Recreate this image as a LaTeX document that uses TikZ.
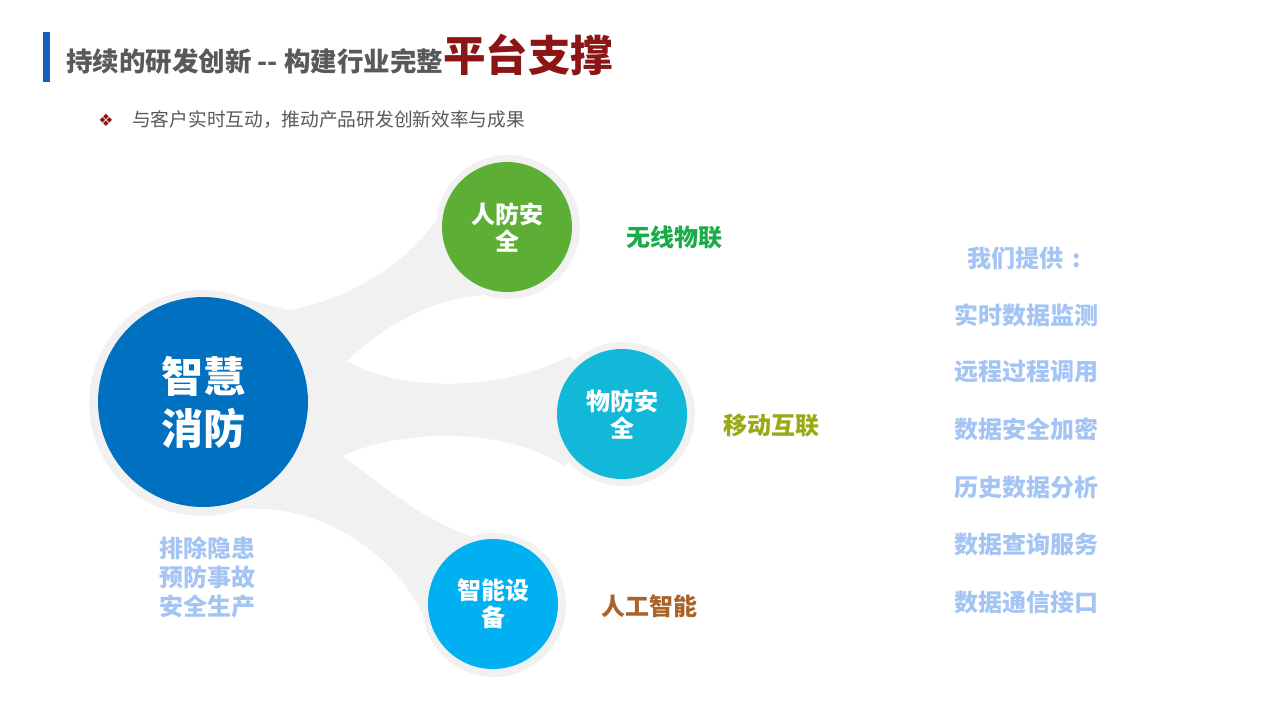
\documentclass[tikz,border=0pt]{standalone}
\usepackage{fontspec}
\setmainfont{Noto Sans CJK SC}
\newfontfamily\symfont{DejaVu Sans}
\definecolor{haloGray}{RGB}{241,241,241}
\definecolor{bigBlue}{RGB}{0,112,192}
\definecolor{leafGreen}{RGB}{93,174,52}
\definecolor{leafCyan}{RGB}{18,184,216}
\definecolor{leafBlue}{RGB}{0,176,240}
\definecolor{titleGray}{RGB}{89,89,89}
\definecolor{titleRed}{RGB}{140,22,22}
\definecolor{barBlue}{RGB}{21,96,189}
\definecolor{listBlue}{RGB}{164,196,244}
\definecolor{lblGreen}{RGB}{26,171,75}
\definecolor{lblOlive}{RGB}{152,170,20}
\definecolor{lblBrown}{RGB}{168,100,42}
\tikzset{
  halo/.style={circle, fill=haloGray, inner sep=0},
  leaf/.style={circle, minimum size=130pt, inner sep=0, text=white, align=center,
    font=\bfseries\fontsize{24}{27}\selectfont},
  sidelabel/.style={inner sep=0, font=\bfseries\fontsize{24}{24}\selectfont},
  listitem/.style={inner sep=0, text=listBlue, font=\bfseries\fontsize{24}{24}\selectfont},
}
\begin{document}
\begin{tikzpicture}[x=1pt,y=-1pt]
\useasboundingbox (0,0) rectangle (1280,720);
% title
\fill[barBlue] (43,32) rectangle (50,82);
\node[anchor=base west, inner sep=0] (title) at (66,71)
  {{\color{titleGray}\fontsize{26.5}{26.5}\selectfont\bfseries 持续的研发创新 -{}- 构建行业完整}{\color{titleRed}\fontsize{42.5}{42.5}\selectfont\bfseries 平台支撑}};
\node[inner sep=0, text=titleRed, font=\symfont\fontsize{17}{17}\selectfont] (bullet) at (106,120) {❖};
\node[anchor=west, inner sep=0, text=titleGray, font=\fontsize{18.7}{18.7}\selectfont] (sub) at (132,120)
  {与客户实时互动，推动产品研发创新效率与成果};
% gray blob
\fill[haloGray] (203,402) -- (250,300) -- (288,310) .. controls (350,300) and (412,262) .. (447,205)
  -- (507,227) -- (500,294) .. controls (440,295) and (390,320) .. (347,361)
  .. controls (400,392) and (500,392) .. (570,356) -- (622,414) -- (565,466)
  .. controls (500,425) and (400,430) .. (342,456)
  .. controls (390,490) and (430,527) .. (485,540) -- (493,604) -- (432,640)
  .. controls (410,560) and (330,512) .. (266,509) -- (240,508) -- cycle;
\node[halo, minimum size=226pt] (hbig) at (202,403) {};
\node[halo, minimum size=144pt] (h1) at (508,227) {};
\node[halo, minimum size=144pt] (h2) at (623,414) {};
\node[halo, minimum size=144pt] (h3) at (494,605) {};
% circles
\node[circle, fill=bigBlue, minimum size=210pt, inner sep=0, text=white, align=center,
  font=\bfseries\fontsize{42}{52}\selectfont] (core) at (203,402) {智慧\\消防};
\node[leaf, fill=leafGreen] (p1) at (507,227) {人防安\\全};
\node[leaf, fill=leafCyan] (p2) at (622,414) {物防安\\全};
\node[leaf, fill=leafBlue] (p3) at (493,604) {智能设\\备};
% side labels
\node[sidelabel, text=lblGreen] (l1) at (674,237) {无线物联};
\node[sidelabel, text=lblOlive] (l2) at (771,426) {移动互联};
\node[sidelabel, text=lblBrown] (l3) at (649,606) {人工智能};
\node[inner sep=0, text=listBlue, align=center, font=\bfseries\fontsize{24}{29}\selectfont] (left) at (207,577)
  {排除隐患\\预防事故\\安全生产};
% right list
\node[listitem] (r0) at (1024,258) {我们提供\kern9pt{:}};
\node[listitem] (r1) at (1026,315) {实时数据监测};
\node[listitem] (r2) at (1026,372) {远程过程调用};
\node[listitem] (r3) at (1026,429) {数据安全加密};
\node[listitem] (r4) at (1026,487) {历史数据分析};
\node[listitem] (r5) at (1026,544) {数据查询服务};
\node[listitem] (r6) at (1026,602) {数据通信接口};
\end{tikzpicture}
\end{document}
